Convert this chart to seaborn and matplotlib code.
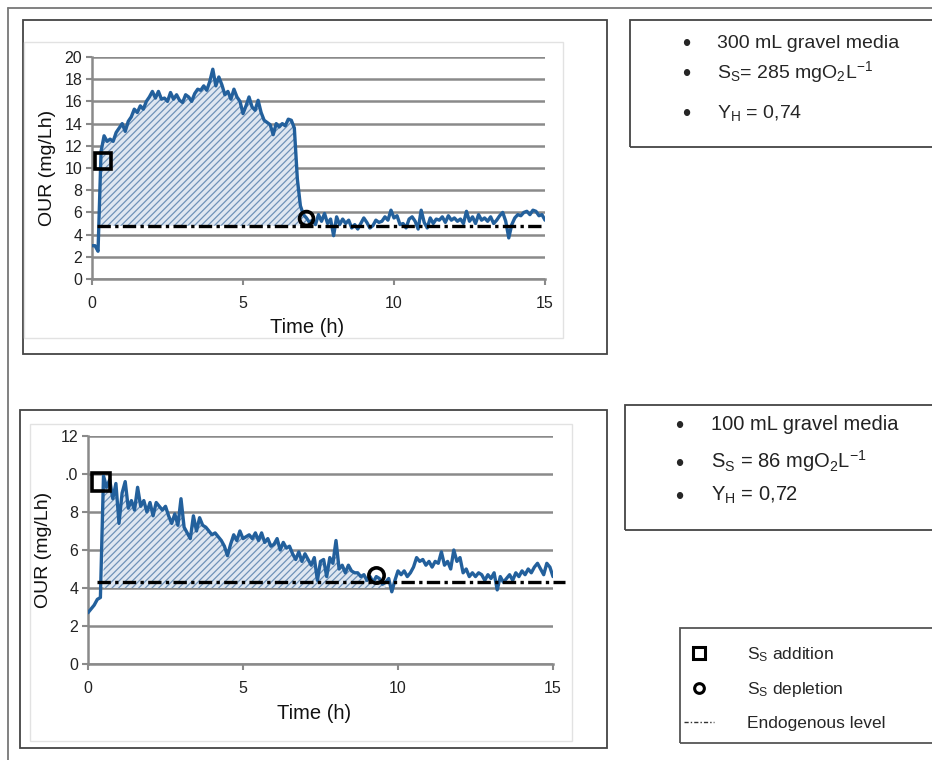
import numpy as np
import matplotlib
matplotlib.use("Agg")
import matplotlib.pyplot as plt
import seaborn as sns
from matplotlib.patches import Rectangle
from matplotlib.lines import Line2D

# sampling grid (h) and OUR readings (mg/Lh)
time_h = np.round(np.arange(151) * 0.1, 1)

our_300ml = [
    3.0, 3.0, 2.5, 11.5, 12.9, 12.4, 12.6, 12.4, 13.2, 13.6,
    14.0, 13.3, 14.2, 14.6, 15.3, 15.0, 15.6, 15.3, 16.0, 16.4,
    16.9, 16.3, 16.9, 16.2, 16.3, 16.0, 16.8, 16.2, 16.6, 16.1,
    15.9, 16.6, 16.4, 16.0, 16.7, 17.1, 17.0, 17.4, 17.0, 17.8,
    18.9, 17.4, 18.2, 17.5, 16.6, 16.9, 16.2, 17.1, 16.4, 16.0,
    14.9, 15.6, 16.4, 15.5, 15.2, 16.1, 15.0, 14.3, 14.1, 13.9,
    13.0, 14.0, 13.7, 14.0, 13.8, 14.4, 14.3, 13.6, 9.0, 6.6,
    5.8, 5.5, 5.1, 5.3, 4.9, 5.8, 5.2, 5.9, 5.0, 5.4,
    3.9, 5.6, 4.9, 5.4, 5.0, 5.3, 4.6, 4.9, 4.5, 5.0,
    5.5, 5.1, 4.6, 4.8, 5.3, 5.1, 5.2, 5.6, 5.3, 6.2,
    5.5, 5.7, 4.9, 5.0, 4.6, 5.4, 5.6, 5.2, 4.5, 6.2,
    5.1, 4.6, 5.5, 5.0, 5.4, 5.3, 5.6, 5.1, 5.7, 5.3,
    5.5, 5.2, 5.4, 5.0, 6.1, 5.2, 5.6, 5.0, 5.8, 5.3,
    5.5, 5.2, 5.6, 5.0, 5.3, 5.7, 6.0, 5.2, 3.7, 4.9,
    5.5, 5.8, 5.7, 6.0, 6.1, 5.8, 6.2, 6.1, 5.7, 5.8,
    5.3,
]

our_100ml = [
    2.7, 2.9, 3.1, 3.4, 3.5, 9.9, 9.3, 9.7, 8.7, 9.5,
    7.4, 9.0, 9.6, 8.2, 8.6, 8.1, 9.3, 8.3, 8.6, 8.0,
    8.5, 7.8, 8.5, 8.3, 8.1, 8.3, 7.8, 7.4, 7.9, 7.3,
    8.7, 7.2, 6.9, 6.6, 7.8, 7.0, 7.7, 7.3, 7.2, 7.0,
    6.8, 6.9, 6.7, 6.5, 6.2, 5.7, 6.3, 6.8, 6.5, 7.0,
    6.6, 6.7, 6.8, 6.6, 6.9, 6.5, 6.9, 6.4, 6.6, 6.2,
    6.3, 6.6, 6.0, 6.4, 6.1, 6.2, 5.8, 5.5, 5.9, 5.4,
    5.8, 5.5, 5.2, 5.6, 4.4, 5.4, 5.5, 4.6, 5.6, 5.3,
    6.5, 5.0, 5.2, 4.8, 5.2, 4.9, 4.8, 4.8, 4.6, 4.7,
    4.4, 4.6, 4.3, 4.6, 4.5, 4.2, 4.3, 4.5, 3.8, 4.4,
    4.9, 4.7, 4.9, 4.6, 4.8, 5.1, 5.6, 5.4, 5.5, 5.2,
    5.4, 5.1, 5.4, 5.3, 5.9, 5.2, 5.4, 5.0, 6.0, 5.4,
    5.6, 4.8, 5.0, 4.6, 4.8, 4.6, 4.8, 4.7, 4.4, 4.7,
    4.5, 4.8, 3.9, 4.6, 4.3, 4.5, 4.7, 4.4, 4.8, 4.6,
    4.9, 4.7, 5.0, 4.8, 5.1, 5.3, 5.0, 4.7, 5.3, 5.1,
    4.6,
]

# substrate addition / depletion points (time, OUR)
addition_300 = (0.36, 10.6)
depletion_300 = (7.1, 5.5)
addition_100 = (0.42, 9.6)
depletion_100 = (9.3, 4.7)

# endogenous levels and area limits
endo_300, endo_span_300 = 4.8, (0.17, 15.0)
endo_100, endo_span_100 = 4.3, (0.3, 15.4)
fill_300 = (0.3, 7.1, 4.8)
fill_100 = (0.5, 9.6, 4.0)

yticks_300 = [0, 2, 4, 6, 8, 10, 12, 14, 16, 18, 20]
yticks_100 = [0, 2, 4, 6, 8, 10, 12]
ylabels_100 = ["0", "2", "4", "6", "8", ".0", "12"]
xticks = [0, 5, 10, 15]

info_300 = ["300 mL gravel media",
            r"S$_\mathrm{S}$= 285 mgO$_2$L$^{\mathrm{-1}}$",
            r"Y$_\mathrm{H}$ = 0,74"]
info_100 = ["100 mL gravel media",
            r"S$_\mathrm{S}$ = 86 mgO$_2$L$^{\mathrm{-1}}$",
            r"Y$_\mathrm{H}$ = 0,72"]

sns.set_style("white")
plt.rcParams["font.family"] = ["Liberation Sans", "DejaVu Sans"]
plt.rcParams["mathtext.fontset"] = "custom"
plt.rcParams["mathtext.rm"] = "Liberation Sans"
plt.rcParams["mathtext.it"] = "Liberation Sans:italic"
plt.rcParams["hatch.linewidth"] = 0.9

W, H = 932, 760
line_blue = "#23609c"
grid_grey = "#8a8a8a"

fig = plt.figure(figsize=(W / 100, H / 100), dpi=100)


def fig_box(x0, y0, x1, y1, color="#555555", lw=1.3, z=0):
    # rectangle given in pixel coords (top-left origin)
    r = Rectangle((x0 / W, 1 - y1 / H), (x1 - x0) / W, (y1 - y0) / H,
                  transform=fig.transFigure, fill=False, edgecolor=color,
                  linewidth=lw, zorder=z)
    fig.add_artist(r)


def fig_line(xs, ys, color="#777777", lw=1.3):
    fig.add_artist(Line2D([x / W for x in xs], [1 - y / H for y in ys],
                          transform=fig.transFigure, color=color, lw=lw))


def axes_px(x0, y0, x1, y1):
    return fig.add_axes([x0 / W, 1 - y1 / H, (x1 - x0) / W, (y1 - y0) / H])


def draw_panel(ax, y, yticks, ylabels, add, dep, endo, span, fill, ms_sq, ms_ci,
               xlab_x):
    t = np.asarray(time_h)
    yy = np.asarray(y)
    mask = (t >= fill[0]) & (t <= fill[1])
    ax.fill_between(t, np.maximum(yy, fill[2]), fill[2], where=mask,
                    facecolor="#dfe7f1", edgecolor="#6f92b8", hatch="/////",
                    linewidth=0, zorder=2)
    sns.lineplot(x=t, y=yy, ax=ax, color=line_blue, lw=2.4,
                 estimator=None, zorder=4)
    ax.plot(list(span), [endo, endo], color="black", lw=2.4,
            linestyle=(0, (4, 1.3, 1, 1.3)), zorder=5, clip_on=False)
    ax.plot([add[0]], [add[1]], marker="s", ms=ms_sq, mfc="none", mec="black",
            mew=2.6, ls="", zorder=6)
    ax.plot([dep[0]], [dep[1]], marker="o", ms=ms_ci, mfc="none", mec="black",
            mew=2.6, ls="", zorder=6)

    ax.set_xlim(0, 15)
    ax.set_ylim(yticks[0], yticks[-1])
    ax.set_yticks(yticks)
    ax.set_yticklabels(ylabels)
    ax.set_xticks(xticks)
    ax.yaxis.grid(True, color=grid_grey, lw=1.8)
    ax.xaxis.grid(False)
    ax.set_axisbelow(True)
    for s in ["top", "right"]:
        ax.spines[s].set_visible(False)
    for s in ["left", "bottom"]:
        ax.spines[s].set_color(grid_grey)
        ax.spines[s].set_linewidth(1.8)
    ax.tick_params(axis="x", bottom=True, length=4, width=1.5, color=grid_grey,
                   labelsize=11.5, pad=8, labelcolor="#222222")
    ax.tick_params(axis="y", left=True, length=4, width=1.5, color=grid_grey,
                   labelsize=11.5, pad=3, labelcolor="#222222")
    ax.set_xlabel("Time (h)", fontsize=14.5, color="#111111")
    ax.xaxis.set_label_coords(xlab_x, -0.175)
    ax.xaxis.label.set_va("top")
    ax.set_ylabel("OUR (mg/Lh)", fontsize=14, labelpad=6, color="#111111")
    ax.patch.set_alpha(0)


# outer frame lines
fig_line([8, 932], [8, 8])
fig_line([8, 8], [8, 760])

# top panel
fig_box(23, 20, 607, 354, color="#444444")
fig_box(24, 42, 563, 338, color="#e2e2e2", lw=1.0)
ax1 = axes_px(92, 57, 545, 279)
draw_panel(ax1, our_300ml, yticks_300, [str(v) for v in yticks_300],
           addition_300, depletion_300, endo_300, endo_span_300, fill_300, 11, 10,
           0.474)

# bottom panel
fig_box(20, 410, 607, 748, color="#444444")
fig_box(30, 424, 572, 741, color="#e2e2e2", lw=1.0)
ax2 = axes_px(88, 436, 553, 664)
draw_panel(ax2, our_100ml, yticks_100, ylabels_100,
           addition_100, depletion_100, endo_100, endo_span_100, fill_100, 13, 11,
           0.486)

# info boxes
fig_box(630, 20, 940, 147, color="#444444")
for i, txt in enumerate(info_300):
    yp = [48, 78, 118][i]
    fig.text(686 / W, 1 - (yp + 3) / H, "\u2022", fontsize=17, va="baseline", ha="center")
    fig.text(717 / W, 1 - yp / H, txt, fontsize=14, va="baseline", ha="left")

fig_box(625, 405, 940, 530, color="#444444")
for i, txt in enumerate(info_100):
    yp = [430, 468, 501][i]
    fig.text(679 / W, 1 - (yp + 3) / H, "\u2022", fontsize=17, va="baseline", ha="center")
    fig.text(711 / W, 1 - yp / H, txt, fontsize=14.5, va="baseline", ha="left",
             color="#222222")

# legend box
fig_box(680, 628, 940, 743, color="#555555")
handles = [
    Line2D([], [], marker="s", ms=8, mfc="none", mec="black", mew=2.2, ls=""),
    Line2D([], [], marker="o", ms=7, mfc="none", mec="black", mew=2.2, ls=""),
    Line2D([], [], color="#333333", lw=1.0, linestyle=(0, (3, 1.5, 1, 1.5))),
]
labels = [r"S$_\mathrm{S}$ addition", r"S$_\mathrm{S}$ depletion", "Endogenous level"]
fig.legend(handles, labels, loc="upper left", bbox_to_anchor=(684 / W, 1 - 645 / H),
           frameon=False, fontsize=12.5, handlelength=1.7, handletextpad=1.95,
           labelspacing=0.95, borderpad=0, borderaxespad=0)

fig.savefig("out.png", dpi=100)
